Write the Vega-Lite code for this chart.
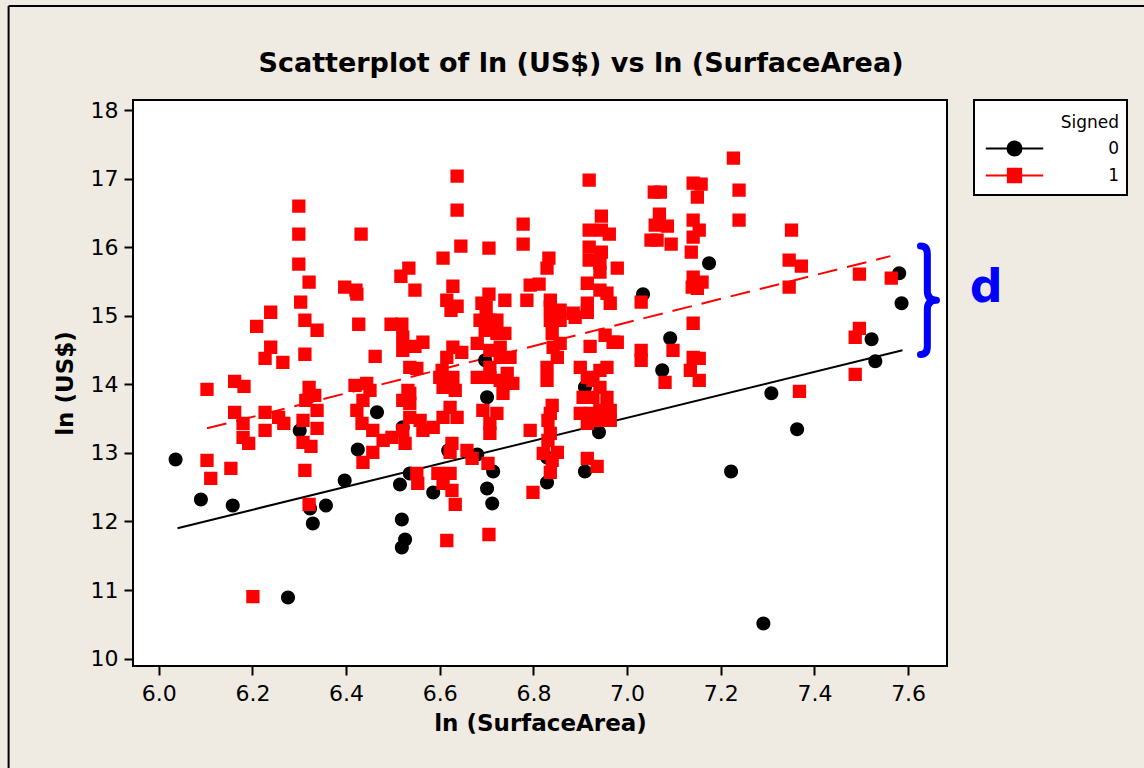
{
  "$schema": "https://vega.github.io/schema/vega-lite/v6.json",
  "width": 814,
  "height": 566,
  "autosize": {"type": "none"},
  "padding": {"left": 133, "top": 100, "right": 197, "bottom": 102},
  "background": "#EFEBE2",
  "config": {
    "font": "DejaVu Sans",
    "view": {"stroke": "#000000", "strokeWidth": 2, "fill": "#FFFFFF"},
    "axis": {
      "grid": false,
      "domain": false,
      "tickColor": "#000000",
      "tickWidth": 2,
      "tickSize": 9,
      "labelColor": "#000000",
      "labelFontSize": 22,
      "labelFont": "DejaVu Sans",
      "titleColor": "#000000",
      "titleFontSize": 23,
      "titleFontWeight": "bold",
      "titleFont": "DejaVu Sans"
    }
  },
  "title": {
    "text": "Scatterplot of ln (US$) vs ln (SurfaceArea)",
    "font": "DejaVu Sans",
    "fontSize": 27,
    "fontWeight": "bold",
    "color": "#000000",
    "anchor": "middle",
    "frame": "group",
    "dx": 41,
    "offset": -73
  },
  "datasets": {
    "points": [
      {"lnSurfaceArea": 6.036, "lnUSD": 12.905, "Signed": 0},
      {"lnSurfaceArea": 6.090, "lnUSD": 12.321, "Signed": 0},
      {"lnSurfaceArea": 6.158, "lnUSD": 12.233, "Signed": 0},
      {"lnSurfaceArea": 6.276, "lnUSD": 10.890, "Signed": 0},
      {"lnSurfaceArea": 6.301, "lnUSD": 13.328, "Signed": 0},
      {"lnSurfaceArea": 6.323, "lnUSD": 12.189, "Signed": 0},
      {"lnSurfaceArea": 6.329, "lnUSD": 11.970, "Signed": 0},
      {"lnSurfaceArea": 6.357, "lnUSD": 12.233, "Signed": 0},
      {"lnSurfaceArea": 6.397, "lnUSD": 12.598, "Signed": 0},
      {"lnSurfaceArea": 6.425, "lnUSD": 13.051, "Signed": 0},
      {"lnSurfaceArea": 6.466, "lnUSD": 13.591, "Signed": 0},
      {"lnSurfaceArea": 6.515, "lnUSD": 12.540, "Signed": 0},
      {"lnSurfaceArea": 6.519, "lnUSD": 12.029, "Signed": 0},
      {"lnSurfaceArea": 6.526, "lnUSD": 11.737, "Signed": 0},
      {"lnSurfaceArea": 6.519, "lnUSD": 11.620, "Signed": 0},
      {"lnSurfaceArea": 6.536, "lnUSD": 12.700, "Signed": 0},
      {"lnSurfaceArea": 6.586, "lnUSD": 12.423, "Signed": 0},
      {"lnSurfaceArea": 6.521, "lnUSD": 13.372, "Signed": 0},
      {"lnSurfaceArea": 6.618, "lnUSD": 13.036, "Signed": 0},
      {"lnSurfaceArea": 6.680, "lnUSD": 12.978, "Signed": 0},
      {"lnSurfaceArea": 6.697, "lnUSD": 14.350, "Signed": 0},
      {"lnSurfaceArea": 6.701, "lnUSD": 13.810, "Signed": 0},
      {"lnSurfaceArea": 6.701, "lnUSD": 12.481, "Signed": 0},
      {"lnSurfaceArea": 6.712, "lnUSD": 12.262, "Signed": 0},
      {"lnSurfaceArea": 6.714, "lnUSD": 12.729, "Signed": 0},
      {"lnSurfaceArea": 6.829, "lnUSD": 12.569, "Signed": 0},
      {"lnSurfaceArea": 6.829, "lnUSD": 12.934, "Signed": 0},
      {"lnSurfaceArea": 6.910, "lnUSD": 12.729, "Signed": 0},
      {"lnSurfaceArea": 6.940, "lnUSD": 13.299, "Signed": 0},
      {"lnSurfaceArea": 6.910, "lnUSD": 13.956, "Signed": 0},
      {"lnSurfaceArea": 7.034, "lnUSD": 15.314, "Signed": 0},
      {"lnSurfaceArea": 7.092, "lnUSD": 14.671, "Signed": 0},
      {"lnSurfaceArea": 7.075, "lnUSD": 14.204, "Signed": 0},
      {"lnSurfaceArea": 7.175, "lnUSD": 15.766, "Signed": 0},
      {"lnSurfaceArea": 7.222, "lnUSD": 12.729, "Signed": 0},
      {"lnSurfaceArea": 7.291, "lnUSD": 10.510, "Signed": 0},
      {"lnSurfaceArea": 7.308, "lnUSD": 13.868, "Signed": 0},
      {"lnSurfaceArea": 7.363, "lnUSD": 13.343, "Signed": 0},
      {"lnSurfaceArea": 7.522, "lnUSD": 14.657, "Signed": 0},
      {"lnSurfaceArea": 7.530, "lnUSD": 14.335, "Signed": 0},
      {"lnSurfaceArea": 7.581, "lnUSD": 15.620, "Signed": 0},
      {"lnSurfaceArea": 7.586, "lnUSD": 15.182, "Signed": 0},
      {"lnSurfaceArea": 6.103, "lnUSD": 13.927, "Signed": 1},
      {"lnSurfaceArea": 6.162, "lnUSD": 14.043, "Signed": 1},
      {"lnSurfaceArea": 6.182, "lnUSD": 13.970, "Signed": 1},
      {"lnSurfaceArea": 6.103, "lnUSD": 12.890, "Signed": 1},
      {"lnSurfaceArea": 6.111, "lnUSD": 12.627, "Signed": 1},
      {"lnSurfaceArea": 6.154, "lnUSD": 12.773, "Signed": 1},
      {"lnSurfaceArea": 6.209, "lnUSD": 14.846, "Signed": 1},
      {"lnSurfaceArea": 6.239, "lnUSD": 15.051, "Signed": 1},
      {"lnSurfaceArea": 6.239, "lnUSD": 14.540, "Signed": 1},
      {"lnSurfaceArea": 6.227, "lnUSD": 14.379, "Signed": 1},
      {"lnSurfaceArea": 6.265, "lnUSD": 14.321, "Signed": 1},
      {"lnSurfaceArea": 6.162, "lnUSD": 13.591, "Signed": 1},
      {"lnSurfaceArea": 6.180, "lnUSD": 13.430, "Signed": 1},
      {"lnSurfaceArea": 6.180, "lnUSD": 13.226, "Signed": 1},
      {"lnSurfaceArea": 6.192, "lnUSD": 13.138, "Signed": 1},
      {"lnSurfaceArea": 6.227, "lnUSD": 13.591, "Signed": 1},
      {"lnSurfaceArea": 6.227, "lnUSD": 13.328, "Signed": 1},
      {"lnSurfaceArea": 6.256, "lnUSD": 13.518, "Signed": 1},
      {"lnSurfaceArea": 6.267, "lnUSD": 13.430, "Signed": 1},
      {"lnSurfaceArea": 6.201, "lnUSD": 10.904, "Signed": 1},
      {"lnSurfaceArea": 6.299, "lnUSD": 16.598, "Signed": 1},
      {"lnSurfaceArea": 6.299, "lnUSD": 16.190, "Signed": 1},
      {"lnSurfaceArea": 6.299, "lnUSD": 15.752, "Signed": 1},
      {"lnSurfaceArea": 6.321, "lnUSD": 15.489, "Signed": 1},
      {"lnSurfaceArea": 6.303, "lnUSD": 15.197, "Signed": 1},
      {"lnSurfaceArea": 6.312, "lnUSD": 14.934, "Signed": 1},
      {"lnSurfaceArea": 6.338, "lnUSD": 14.788, "Signed": 1},
      {"lnSurfaceArea": 6.312, "lnUSD": 14.438, "Signed": 1},
      {"lnSurfaceArea": 6.321, "lnUSD": 13.956, "Signed": 1},
      {"lnSurfaceArea": 6.333, "lnUSD": 13.839, "Signed": 1},
      {"lnSurfaceArea": 6.314, "lnUSD": 13.766, "Signed": 1},
      {"lnSurfaceArea": 6.338, "lnUSD": 13.620, "Signed": 1},
      {"lnSurfaceArea": 6.308, "lnUSD": 13.474, "Signed": 1},
      {"lnSurfaceArea": 6.338, "lnUSD": 13.357, "Signed": 1},
      {"lnSurfaceArea": 6.308, "lnUSD": 13.153, "Signed": 1},
      {"lnSurfaceArea": 6.325, "lnUSD": 13.094, "Signed": 1},
      {"lnSurfaceArea": 6.312, "lnUSD": 12.744, "Signed": 1},
      {"lnSurfaceArea": 6.321, "lnUSD": 12.248, "Signed": 1},
      {"lnSurfaceArea": 6.432, "lnUSD": 16.190, "Signed": 1},
      {"lnSurfaceArea": 6.397, "lnUSD": 15.416, "Signed": 1},
      {"lnSurfaceArea": 6.421, "lnUSD": 15.372, "Signed": 1},
      {"lnSurfaceArea": 6.423, "lnUSD": 15.314, "Signed": 1},
      {"lnSurfaceArea": 6.427, "lnUSD": 14.876, "Signed": 1},
      {"lnSurfaceArea": 6.462, "lnUSD": 14.408, "Signed": 1},
      {"lnSurfaceArea": 6.419, "lnUSD": 13.985, "Signed": 1},
      {"lnSurfaceArea": 6.444, "lnUSD": 14.014, "Signed": 1},
      {"lnSurfaceArea": 6.423, "lnUSD": 13.620, "Signed": 1},
      {"lnSurfaceArea": 6.436, "lnUSD": 13.766, "Signed": 1},
      {"lnSurfaceArea": 6.451, "lnUSD": 13.912, "Signed": 1},
      {"lnSurfaceArea": 6.434, "lnUSD": 13.430, "Signed": 1},
      {"lnSurfaceArea": 6.457, "lnUSD": 13.328, "Signed": 1},
      {"lnSurfaceArea": 6.436, "lnUSD": 12.861, "Signed": 1},
      {"lnSurfaceArea": 6.457, "lnUSD": 13.007, "Signed": 1},
      {"lnSurfaceArea": 6.479, "lnUSD": 13.182, "Signed": 1},
      {"lnSurfaceArea": 6.498, "lnUSD": 13.226, "Signed": 1},
      {"lnSurfaceArea": 6.526, "lnUSD": 13.138, "Signed": 1},
      {"lnSurfaceArea": 6.521, "lnUSD": 13.328, "Signed": 1},
      {"lnSurfaceArea": 6.521, "lnUSD": 13.766, "Signed": 1},
      {"lnSurfaceArea": 6.536, "lnUSD": 13.868, "Signed": 1},
      {"lnSurfaceArea": 6.536, "lnUSD": 13.518, "Signed": 1},
      {"lnSurfaceArea": 6.564, "lnUSD": 13.328, "Signed": 1},
      {"lnSurfaceArea": 6.496, "lnUSD": 14.876, "Signed": 1},
      {"lnSurfaceArea": 6.519, "lnUSD": 14.876, "Signed": 1},
      {"lnSurfaceArea": 6.521, "lnUSD": 14.686, "Signed": 1},
      {"lnSurfaceArea": 6.521, "lnUSD": 14.496, "Signed": 1},
      {"lnSurfaceArea": 6.547, "lnUSD": 14.554, "Signed": 1},
      {"lnSurfaceArea": 6.564, "lnUSD": 14.613, "Signed": 1},
      {"lnSurfaceArea": 6.551, "lnUSD": 14.233, "Signed": 1},
      {"lnSurfaceArea": 6.532, "lnUSD": 13.912, "Signed": 1},
      {"lnSurfaceArea": 6.534, "lnUSD": 15.693, "Signed": 1},
      {"lnSurfaceArea": 6.517, "lnUSD": 15.576, "Signed": 1},
      {"lnSurfaceArea": 6.547, "lnUSD": 15.372, "Signed": 1},
      {"lnSurfaceArea": 6.551, "lnUSD": 12.700, "Signed": 1},
      {"lnSurfaceArea": 6.553, "lnUSD": 12.554, "Signed": 1},
      {"lnSurfaceArea": 6.637, "lnUSD": 17.036, "Signed": 1},
      {"lnSurfaceArea": 6.637, "lnUSD": 16.540, "Signed": 1},
      {"lnSurfaceArea": 6.645, "lnUSD": 16.014, "Signed": 1},
      {"lnSurfaceArea": 6.705, "lnUSD": 15.985, "Signed": 1},
      {"lnSurfaceArea": 6.607, "lnUSD": 15.839, "Signed": 1},
      {"lnSurfaceArea": 6.628, "lnUSD": 15.430, "Signed": 1},
      {"lnSurfaceArea": 6.615, "lnUSD": 15.226, "Signed": 1},
      {"lnSurfaceArea": 6.637, "lnUSD": 15.138, "Signed": 1},
      {"lnSurfaceArea": 6.624, "lnUSD": 15.080, "Signed": 1},
      {"lnSurfaceArea": 6.705, "lnUSD": 15.314, "Signed": 1},
      {"lnSurfaceArea": 6.690, "lnUSD": 15.182, "Signed": 1},
      {"lnSurfaceArea": 6.699, "lnUSD": 15.124, "Signed": 1},
      {"lnSurfaceArea": 6.686, "lnUSD": 14.934, "Signed": 1},
      {"lnSurfaceArea": 6.707, "lnUSD": 14.934, "Signed": 1},
      {"lnSurfaceArea": 6.722, "lnUSD": 14.934, "Signed": 1},
      {"lnSurfaceArea": 6.697, "lnUSD": 14.788, "Signed": 1},
      {"lnSurfaceArea": 6.722, "lnUSD": 14.744, "Signed": 1},
      {"lnSurfaceArea": 6.739, "lnUSD": 14.744, "Signed": 1},
      {"lnSurfaceArea": 6.739, "lnUSD": 15.226, "Signed": 1},
      {"lnSurfaceArea": 6.778, "lnUSD": 16.336, "Signed": 1},
      {"lnSurfaceArea": 6.778, "lnUSD": 16.044, "Signed": 1},
      {"lnSurfaceArea": 6.786, "lnUSD": 15.226, "Signed": 1},
      {"lnSurfaceArea": 6.793, "lnUSD": 15.445, "Signed": 1},
      {"lnSurfaceArea": 6.812, "lnUSD": 15.460, "Signed": 1},
      {"lnSurfaceArea": 6.833, "lnUSD": 15.839, "Signed": 1},
      {"lnSurfaceArea": 6.829, "lnUSD": 15.693, "Signed": 1},
      {"lnSurfaceArea": 6.836, "lnUSD": 15.226, "Signed": 1},
      {"lnSurfaceArea": 6.836, "lnUSD": 15.124, "Signed": 1},
      {"lnSurfaceArea": 6.857, "lnUSD": 15.080, "Signed": 1},
      {"lnSurfaceArea": 6.836, "lnUSD": 14.934, "Signed": 1},
      {"lnSurfaceArea": 6.857, "lnUSD": 14.934, "Signed": 1},
      {"lnSurfaceArea": 6.840, "lnUSD": 14.744, "Signed": 1},
      {"lnSurfaceArea": 6.857, "lnUSD": 14.598, "Signed": 1},
      {"lnSurfaceArea": 6.851, "lnUSD": 14.394, "Signed": 1},
      {"lnSurfaceArea": 6.889, "lnUSD": 14.978, "Signed": 1},
      {"lnSurfaceArea": 6.919, "lnUSD": 16.978, "Signed": 1},
      {"lnSurfaceArea": 6.945, "lnUSD": 16.452, "Signed": 1},
      {"lnSurfaceArea": 6.919, "lnUSD": 16.248, "Signed": 1},
      {"lnSurfaceArea": 6.962, "lnUSD": 16.190, "Signed": 1},
      {"lnSurfaceArea": 6.945, "lnUSD": 16.248, "Signed": 1},
      {"lnSurfaceArea": 6.919, "lnUSD": 16.000, "Signed": 1},
      {"lnSurfaceArea": 6.945, "lnUSD": 15.927, "Signed": 1},
      {"lnSurfaceArea": 6.919, "lnUSD": 15.810, "Signed": 1},
      {"lnSurfaceArea": 6.942, "lnUSD": 15.766, "Signed": 1},
      {"lnSurfaceArea": 6.979, "lnUSD": 15.693, "Signed": 1},
      {"lnSurfaceArea": 6.942, "lnUSD": 15.635, "Signed": 1},
      {"lnSurfaceArea": 6.915, "lnUSD": 15.474, "Signed": 1},
      {"lnSurfaceArea": 6.942, "lnUSD": 15.372, "Signed": 1},
      {"lnSurfaceArea": 6.957, "lnUSD": 15.328, "Signed": 1},
      {"lnSurfaceArea": 6.964, "lnUSD": 15.182, "Signed": 1},
      {"lnSurfaceArea": 6.915, "lnUSD": 15.182, "Signed": 1},
      {"lnSurfaceArea": 6.915, "lnUSD": 15.051, "Signed": 1},
      {"lnSurfaceArea": 7.030, "lnUSD": 15.197, "Signed": 1},
      {"lnSurfaceArea": 7.058, "lnUSD": 16.803, "Signed": 1},
      {"lnSurfaceArea": 7.071, "lnUSD": 16.803, "Signed": 1},
      {"lnSurfaceArea": 7.069, "lnUSD": 16.482, "Signed": 1},
      {"lnSurfaceArea": 7.060, "lnUSD": 16.321, "Signed": 1},
      {"lnSurfaceArea": 7.086, "lnUSD": 16.306, "Signed": 1},
      {"lnSurfaceArea": 7.051, "lnUSD": 16.102, "Signed": 1},
      {"lnSurfaceArea": 7.064, "lnUSD": 16.102, "Signed": 1},
      {"lnSurfaceArea": 7.094, "lnUSD": 16.044, "Signed": 1},
      {"lnSurfaceArea": 7.141, "lnUSD": 16.934, "Signed": 1},
      {"lnSurfaceArea": 7.150, "lnUSD": 16.730, "Signed": 1},
      {"lnSurfaceArea": 7.141, "lnUSD": 16.394, "Signed": 1},
      {"lnSurfaceArea": 7.141, "lnUSD": 16.146, "Signed": 1},
      {"lnSurfaceArea": 7.137, "lnUSD": 15.927, "Signed": 1},
      {"lnSurfaceArea": 7.141, "lnUSD": 15.562, "Signed": 1},
      {"lnSurfaceArea": 7.139, "lnUSD": 15.416, "Signed": 1},
      {"lnSurfaceArea": 7.098, "lnUSD": 14.496, "Signed": 1},
      {"lnSurfaceArea": 7.081, "lnUSD": 14.029, "Signed": 1},
      {"lnSurfaceArea": 7.030, "lnUSD": 14.496, "Signed": 1},
      {"lnSurfaceArea": 7.030, "lnUSD": 14.350, "Signed": 1},
      {"lnSurfaceArea": 6.921, "lnUSD": 14.554, "Signed": 1},
      {"lnSurfaceArea": 6.953, "lnUSD": 14.715, "Signed": 1},
      {"lnSurfaceArea": 6.970, "lnUSD": 14.613, "Signed": 1},
      {"lnSurfaceArea": 6.536, "lnUSD": 14.248, "Signed": 1},
      {"lnSurfaceArea": 6.628, "lnUSD": 14.540, "Signed": 1},
      {"lnSurfaceArea": 6.647, "lnUSD": 14.467, "Signed": 1},
      {"lnSurfaceArea": 6.615, "lnUSD": 14.394, "Signed": 1},
      {"lnSurfaceArea": 6.605, "lnUSD": 14.204, "Signed": 1},
      {"lnSurfaceArea": 6.628, "lnUSD": 14.102, "Signed": 1},
      {"lnSurfaceArea": 6.633, "lnUSD": 13.912, "Signed": 1},
      {"lnSurfaceArea": 6.707, "lnUSD": 14.496, "Signed": 1},
      {"lnSurfaceArea": 6.707, "lnUSD": 14.248, "Signed": 1},
      {"lnSurfaceArea": 6.680, "lnUSD": 14.102, "Signed": 1},
      {"lnSurfaceArea": 6.729, "lnUSD": 14.394, "Signed": 1},
      {"lnSurfaceArea": 6.750, "lnUSD": 14.394, "Signed": 1},
      {"lnSurfaceArea": 6.744, "lnUSD": 14.160, "Signed": 1},
      {"lnSurfaceArea": 6.842, "lnUSD": 14.540, "Signed": 1},
      {"lnSurfaceArea": 6.829, "lnUSD": 14.248, "Signed": 1},
      {"lnSurfaceArea": 6.829, "lnUSD": 14.058, "Signed": 1},
      {"lnSurfaceArea": 6.900, "lnUSD": 14.248, "Signed": 1},
      {"lnSurfaceArea": 6.915, "lnUSD": 14.102, "Signed": 1},
      {"lnSurfaceArea": 6.942, "lnUSD": 14.204, "Signed": 1},
      {"lnSurfaceArea": 6.957, "lnUSD": 14.248, "Signed": 1},
      {"lnSurfaceArea": 7.141, "lnUSD": 14.890, "Signed": 1},
      {"lnSurfaceArea": 7.135, "lnUSD": 14.204, "Signed": 1},
      {"lnSurfaceArea": 7.141, "lnUSD": 14.394, "Signed": 1},
      {"lnSurfaceArea": 7.227, "lnUSD": 17.299, "Signed": 1},
      {"lnSurfaceArea": 7.239, "lnUSD": 16.832, "Signed": 1},
      {"lnSurfaceArea": 7.239, "lnUSD": 16.394, "Signed": 1},
      {"lnSurfaceArea": 7.158, "lnUSD": 16.920, "Signed": 1},
      {"lnSurfaceArea": 7.154, "lnUSD": 16.248, "Signed": 1},
      {"lnSurfaceArea": 7.160, "lnUSD": 15.489, "Signed": 1},
      {"lnSurfaceArea": 7.150, "lnUSD": 15.401, "Signed": 1},
      {"lnSurfaceArea": 7.351, "lnUSD": 16.248, "Signed": 1},
      {"lnSurfaceArea": 7.346, "lnUSD": 15.810, "Signed": 1},
      {"lnSurfaceArea": 7.372, "lnUSD": 15.722, "Signed": 1},
      {"lnSurfaceArea": 7.346, "lnUSD": 15.416, "Signed": 1},
      {"lnSurfaceArea": 7.496, "lnUSD": 15.606, "Signed": 1},
      {"lnSurfaceArea": 7.564, "lnUSD": 15.547, "Signed": 1},
      {"lnSurfaceArea": 7.496, "lnUSD": 14.817, "Signed": 1},
      {"lnSurfaceArea": 7.487, "lnUSD": 14.686, "Signed": 1},
      {"lnSurfaceArea": 7.487, "lnUSD": 14.146, "Signed": 1},
      {"lnSurfaceArea": 7.154, "lnUSD": 14.379, "Signed": 1},
      {"lnSurfaceArea": 7.154, "lnUSD": 14.058, "Signed": 1},
      {"lnSurfaceArea": 7.368, "lnUSD": 13.897, "Signed": 1},
      {"lnSurfaceArea": 6.680, "lnUSD": 14.598, "Signed": 1},
      {"lnSurfaceArea": 6.729, "lnUSD": 14.540, "Signed": 1},
      {"lnSurfaceArea": 6.707, "lnUSD": 14.102, "Signed": 1},
      {"lnSurfaceArea": 6.729, "lnUSD": 14.058, "Signed": 1},
      {"lnSurfaceArea": 6.756, "lnUSD": 14.014, "Signed": 1},
      {"lnSurfaceArea": 6.735, "lnUSD": 13.868, "Signed": 1},
      {"lnSurfaceArea": 6.600, "lnUSD": 14.102, "Signed": 1},
      {"lnSurfaceArea": 6.622, "lnUSD": 14.058, "Signed": 1},
      {"lnSurfaceArea": 6.607, "lnUSD": 13.956, "Signed": 1},
      {"lnSurfaceArea": 6.536, "lnUSD": 13.722, "Signed": 1},
      {"lnSurfaceArea": 6.558, "lnUSD": 13.474, "Signed": 1},
      {"lnSurfaceArea": 6.586, "lnUSD": 13.372, "Signed": 1},
      {"lnSurfaceArea": 6.607, "lnUSD": 13.518, "Signed": 1},
      {"lnSurfaceArea": 6.622, "lnUSD": 13.664, "Signed": 1},
      {"lnSurfaceArea": 6.637, "lnUSD": 13.518, "Signed": 1},
      {"lnSurfaceArea": 6.692, "lnUSD": 13.620, "Signed": 1},
      {"lnSurfaceArea": 6.722, "lnUSD": 13.576, "Signed": 1},
      {"lnSurfaceArea": 6.707, "lnUSD": 13.430, "Signed": 1},
      {"lnSurfaceArea": 6.707, "lnUSD": 13.284, "Signed": 1},
      {"lnSurfaceArea": 6.626, "lnUSD": 13.138, "Signed": 1},
      {"lnSurfaceArea": 6.658, "lnUSD": 13.036, "Signed": 1},
      {"lnSurfaceArea": 6.669, "lnUSD": 12.919, "Signed": 1},
      {"lnSurfaceArea": 6.622, "lnUSD": 13.007, "Signed": 1},
      {"lnSurfaceArea": 6.703, "lnUSD": 12.846, "Signed": 1},
      {"lnSurfaceArea": 6.596, "lnUSD": 12.700, "Signed": 1},
      {"lnSurfaceArea": 6.622, "lnUSD": 12.700, "Signed": 1},
      {"lnSurfaceArea": 6.607, "lnUSD": 12.554, "Signed": 1},
      {"lnSurfaceArea": 6.626, "lnUSD": 12.452, "Signed": 1},
      {"lnSurfaceArea": 6.633, "lnUSD": 12.248, "Signed": 1},
      {"lnSurfaceArea": 6.615, "lnUSD": 11.722, "Signed": 1},
      {"lnSurfaceArea": 6.705, "lnUSD": 11.810, "Signed": 1},
      {"lnSurfaceArea": 6.799, "lnUSD": 12.423, "Signed": 1},
      {"lnSurfaceArea": 6.836, "lnUSD": 12.715, "Signed": 1},
      {"lnSurfaceArea": 6.840, "lnUSD": 12.890, "Signed": 1},
      {"lnSurfaceArea": 6.821, "lnUSD": 12.992, "Signed": 1},
      {"lnSurfaceArea": 6.851, "lnUSD": 13.007, "Signed": 1},
      {"lnSurfaceArea": 6.831, "lnUSD": 13.182, "Signed": 1},
      {"lnSurfaceArea": 6.836, "lnUSD": 13.284, "Signed": 1},
      {"lnSurfaceArea": 6.840, "lnUSD": 13.693, "Signed": 1},
      {"lnSurfaceArea": 6.836, "lnUSD": 13.576, "Signed": 1},
      {"lnSurfaceArea": 6.831, "lnUSD": 13.474, "Signed": 1},
      {"lnSurfaceArea": 6.793, "lnUSD": 13.328, "Signed": 1},
      {"lnSurfaceArea": 6.915, "lnUSD": 12.919, "Signed": 1},
      {"lnSurfaceArea": 6.936, "lnUSD": 12.802, "Signed": 1},
      {"lnSurfaceArea": 6.927, "lnUSD": 14.058, "Signed": 1},
      {"lnSurfaceArea": 6.942, "lnUSD": 13.956, "Signed": 1},
      {"lnSurfaceArea": 6.906, "lnUSD": 13.810, "Signed": 1},
      {"lnSurfaceArea": 6.927, "lnUSD": 13.810, "Signed": 1},
      {"lnSurfaceArea": 6.957, "lnUSD": 13.810, "Signed": 1},
      {"lnSurfaceArea": 6.900, "lnUSD": 13.576, "Signed": 1},
      {"lnSurfaceArea": 6.921, "lnUSD": 13.576, "Signed": 1},
      {"lnSurfaceArea": 6.942, "lnUSD": 13.620, "Signed": 1},
      {"lnSurfaceArea": 6.964, "lnUSD": 13.620, "Signed": 1},
      {"lnSurfaceArea": 6.915, "lnUSD": 13.430, "Signed": 1},
      {"lnSurfaceArea": 6.942, "lnUSD": 13.474, "Signed": 1},
      {"lnSurfaceArea": 6.964, "lnUSD": 13.474, "Signed": 1},
      {"lnSurfaceArea": 6.979, "lnUSD": 14.613, "Signed": 1},
      {"lnSurfaceArea": 6.885, "lnUSD": 15.036, "Signed": 1}
    ],
    "fits": [
      {"lnSurfaceArea": 6.040, "lnUSD": 11.902, "Signed": 0},
      {"lnSurfaceArea": 7.588, "lnUSD": 14.496, "Signed": 0},
      {"lnSurfaceArea": 6.103, "lnUSD": 13.358, "Signed": 1},
      {"lnSurfaceArea": 7.562, "lnUSD": 15.869, "Signed": 1}
    ],
    "gap": [
      {"lnSurfaceArea": 7.641, "lnUSD": 15.226, "label": "d"}
    ]
  },
  "encoding": {
    "x": {
      "field": "lnSurfaceArea",
      "type": "quantitative",
      "scale": {"domain": [5.945, 7.683], "nice": false, "zero": false},
      "axis": {
        "title": "ln (SurfaceArea)",
        "values": [6.0, 6.2, 6.4, 6.6, 6.8, 7.0, 7.2, 7.4, 7.6],
        "format": ".1f",
        "labelPadding": 8,
        "titlePadding": 8
      }
    },
    "y": {
      "field": "lnUSD",
      "type": "quantitative",
      "scale": {"domain": [9.892, 18.146], "nice": false, "zero": false},
      "axis": {
        "title": "ln (US$)",
        "values": [10, 11, 12, 13, 14, 15, 16, 17, 18],
        "labelPadding": 6,
        "titlePadding": 13
      }
    }
  },
  "layer": [
    {
      "data": {"name": "gap"},
      "mark": {"type": "rule", "color": "#000000", "strokeWidth": 2},
      "encoding": {
        "x": {"datum": 5.6794},
        "y": {"datum": 19.518},
        "y2": {"datum": 8.2}
      }
    },
    {
      "data": {"name": "gap"},
      "mark": {"type": "rule", "color": "#000000", "strokeWidth": 2},
      "encoding": {
        "y": {"datum": 19.518},
        "x": {"datum": 5.6794},
        "x2": {"datum": 8.15}
      }
    },
    {
      "data": {"name": "fits"},
      "transform": [{"filter": "datum.Signed == 0"}],
      "mark": {"type": "line", "stroke": "#000000", "strokeWidth": 2},
      "encoding": {}
    },
    {
      "data": {"name": "fits"},
      "transform": [{"filter": "datum.Signed == 1"}],
      "mark": {"type": "line", "stroke": "#FF0000", "strokeWidth": 2, "strokeDash": [20, 10]},
      "encoding": {}
    },
    {
      "data": {"name": "points"},
      "mark": {"type": "point", "filled": true, "size": 196, "opacity": 1},
      "encoding": {
        "strokeWidth": {"value": 0},
        "color": {
          "field": "Signed",
          "type": "nominal",
          "scale": {"domain": [0, 1], "range": ["#000000", "#FF0000"]},
          "legend": {
            "title": "Signed",
            "orient": "none",
            "legendX": 841,
            "legendY": 0,
            "titleAnchor": "end",
            "titleFontSize": 17,
            "titleFontWeight": "normal",
            "titleColor": "#000000",
            "titlePadding": 15,
            "labelFontSize": 17,
            "labelColor": "#000000",
            "labelAlign": "right",
            "labelOffset": 96,
            "symbolOffset": 24,
            "symbolSize": 196,
            "symbolStrokeWidth": 2,
            "rowPadding": 4,
            "padding": 8,
            "fillColor": "#FFFFFF",
            "strokeColor": "#000000",
            "cornerRadius": 0,
            "encoding": {
              "title": {"dy": {"value": 7}},
              "legend": {"strokeWidth": {"value": 2}}
            }
          }
        },
        "stroke": {
          "field": "Signed",
          "type": "nominal",
          "scale": {"domain": [0, 1], "range": ["#000000", "#FF0000"]}
        },
        "shape": {
          "field": "Signed",
          "type": "nominal",
          "scale": {
            "domain": [0, 1],
            "range": [
              "M -4.1 0 L 4.1 0 M 1 0 C 1 0.552 0.552 1 0 1 C -0.552 1 -1 0.552 -1 0 C -1 -0.552 -0.552 -1 0 -1 C 0.552 -1 1 -0.552 1 0 Z",
              "M -4.1 0 L 4.1 0 M -0.95 -0.95 L 0.95 -0.95 L 0.95 0.95 L -0.95 0.95 Z"
            ]
          }
        }
      }
    },
    {
      "data": {"name": "gap"},
      "mark": {
        "type": "point",
        "shape": "M -0.12 -0.95 Q 0 -0.95 0 -0.81 L 0 -0.16 Q 0 0 0.16 0 Q 0 0 0 0.16 L 0 0.81 Q 0 0.95 -0.12 0.95",
        "filled": false,
        "size": 12996,
        "stroke": "#0000FF",
        "strokeWidth": 7,
        "strokeCap": "round",
        "strokeJoin": "round",
        "opacity": 1
      }
    },
    {
      "data": {"name": "gap"},
      "mark": {
        "type": "text",
        "color": "#0000FF",
        "font": "DejaVu Sans",
        "fontSize": 46,
        "fontWeight": "bold",
        "align": "center",
        "baseline": "alphabetic"
      },
      "encoding": {
        "x": {"datum": 7.767},
        "y": {"datum": 15.201},
        "text": {"field": "label"}
      }
    }
  ]
}
